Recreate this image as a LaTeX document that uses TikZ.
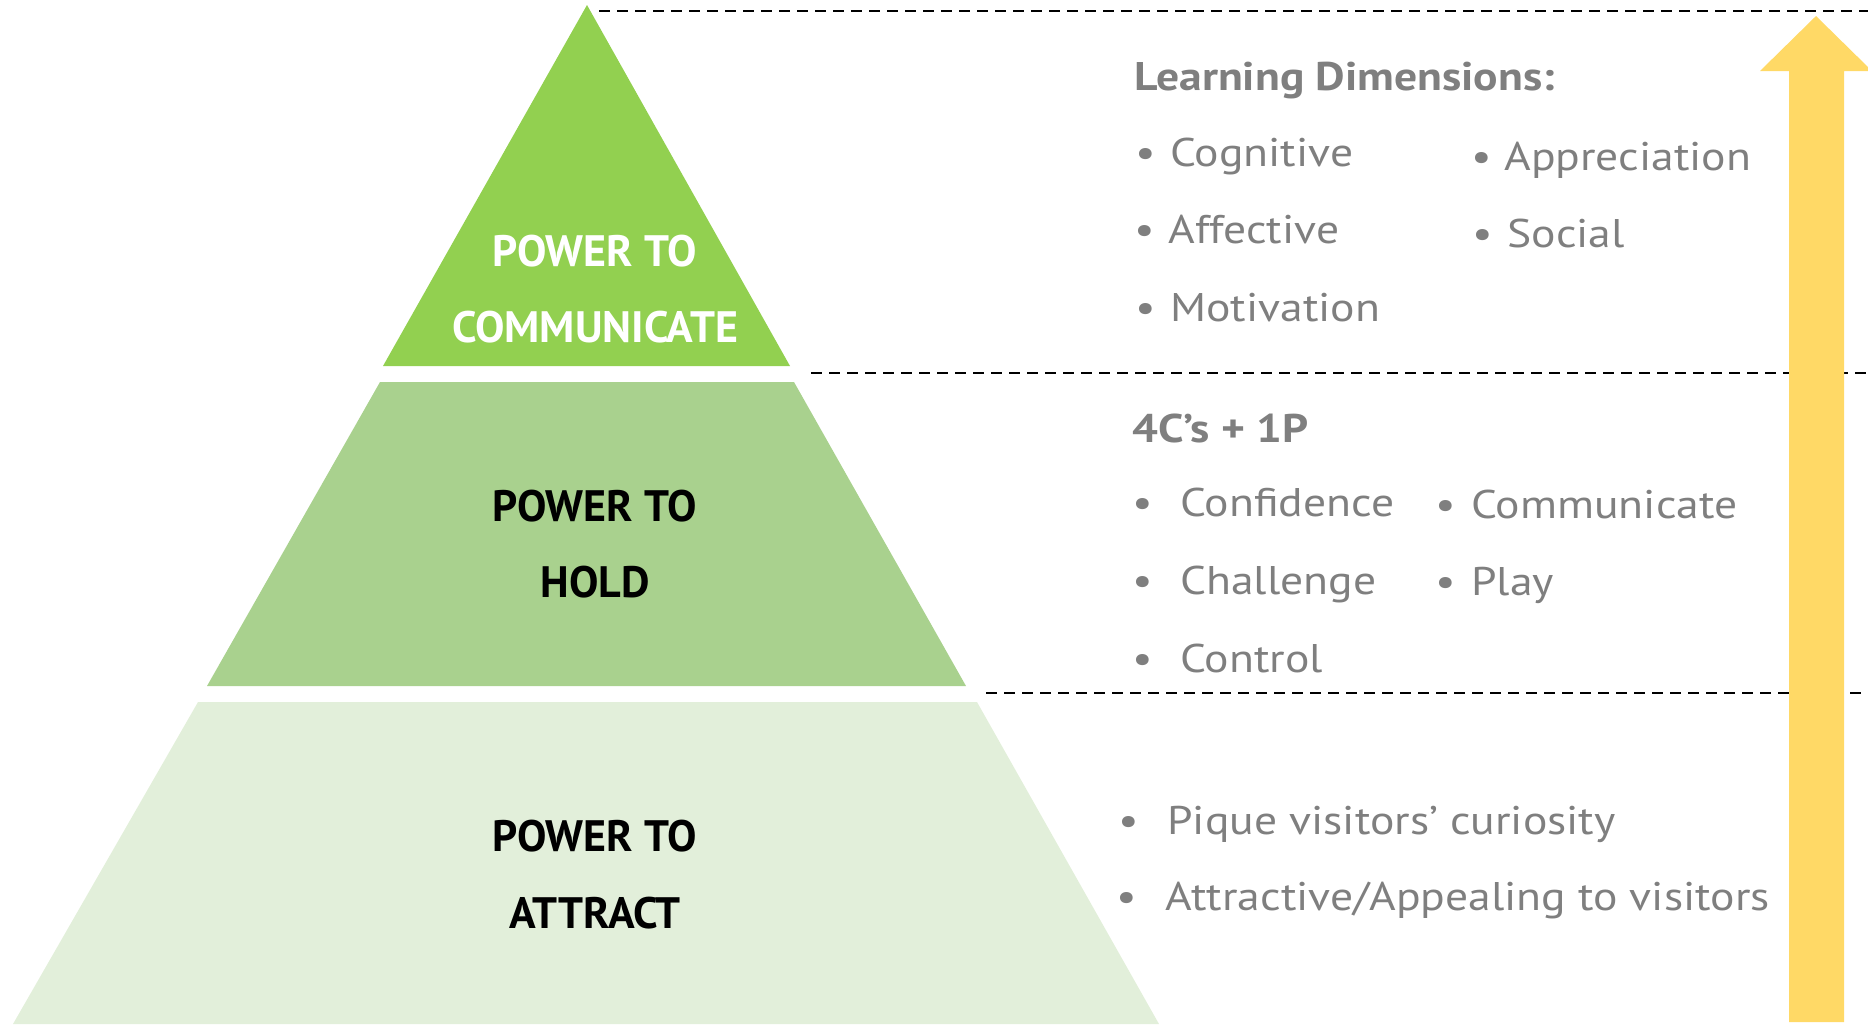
\documentclass[tikz,border=0pt]{standalone}
\usepackage{fontspec}
\setmainfont{PT Sans}
\newfontfamily\graytxt[FakeStretch=1.14]{PT Sans}
\definecolor{gA}{HTML}{92D050}
\definecolor{gB}{HTML}{A9D18E}
\definecolor{gC}{HTML}{E2EFDA}
\definecolor{arrowY}{HTML}{FFD966}
\definecolor{txtgray}{HTML}{7F7F7F}
\newcommand\mybul[1]{\llap{\makebox[0pt]{•}\hspace{#1pt}}}
\begin{document}
\begin{tikzpicture}[x=0.5pt,y=-0.5pt,
 item/.style={anchor=base west, inner sep=0pt, text=txtgray, font=\graytxt\fontsize{20}{24}\selectfont},
 headtxt/.style={anchor=base west, inner sep=0pt, text=txtgray, font=\graytxt\bfseries\fontsize{20}{24}\selectfont},
 lvl/.style={anchor=base, inner sep=0pt, font=\bfseries\fontsize{22}{24}\selectfont},
 sepline/.style={dash pattern=on 5.5pt off 3.5pt, line width=1pt}]
\useasboundingbox (0,0) rectangle (1868,1024);
% pyramid bands
\fill[gA] (587,5) -- (790,366) -- (383,366) -- cycle;
\fill[gB] (380,382) -- (794,382) -- (966,686) -- (207,686) -- cycle;
\fill[gC] (198,702) -- (977,702) -- (1159,1024) -- (13,1024) -- cycle;
% dashed separators
\coordinate (d1s) at (599,10.5);
\coordinate (d1e) at (1868,10.5);
\coordinate (d2s) at (811,373);
\coordinate (d2e) at (1868,373);
\coordinate (d3s) at (986,693);
\coordinate (d3e) at (1868,693);
\draw[sepline] (d1s) -- (d1e);
\draw[sepline] (d2s) -- (d2e);
\draw[sepline] (d3s) -- (d3e);
% arrow
\fill[arrowY] (1789,1022) -- (1789,71) -- (1760,71) -- (1816,16) -- (1872,71) -- (1844,71) -- (1844,1022) -- cycle;
% level labels
\node[lvl, text=white] (t1a) at (595,266) {POWER TO};
\node[lvl, text=white] (t1b) at (595,342) {COMMUNICATE};
\node[lvl] (t2a) at (595,521) {POWER TO};
\node[lvl] (t2b) at (595,597) {HOLD};
\node[lvl] (t3a) at (595,851) {POWER TO};
\node[lvl] (t3b) at (595,928) {ATTRACT};
% top block
\node[headtxt] (h1) at (1134,90) {Learning Dimensions:};
\node[item] (c1) at (1170,166) {\mybul{12.5}Cognitive};
\node[item] (c2) at (1504,170) {\mybul{11.5}Appreciation};
\node[item] (c3) at (1168,243) {\mybul{12}Affective};
\node[item] (c4) at (1507,247) {\mybul{12.5}Social};
\node[item] (c5) at (1170,321) {\mybul{12.5}Motivation};
% middle block
\node[headtxt] (h2) at (1132,442) {4C’s + 1P};
\node[item] (m1) at (1180,516) {\mybul{19}Confidence};
\node[item] (m2) at (1471,518) {\mybul{13}Communicate};
\node[item] (m3) at (1180,594) {\mybul{19}Challenge};
\node[item] (m4) at (1471,595) {\mybul{13}Play};
\node[item] (m5) at (1180,672) {\mybul{19}Control};
% bottom block
\node[item] (b1) at (1167,834) {\mybul{19.5}Pique visitors’ curiosity};
\node[item] (b2) at (1165,910) {\mybul{19.5}Attractive/Appealing to visitors};
\end{tikzpicture}
\end{document}
